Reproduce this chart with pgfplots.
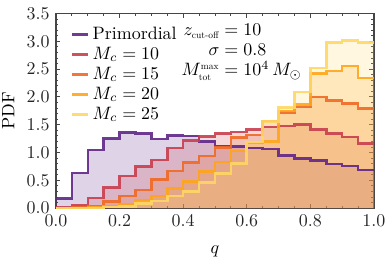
\documentclass[border=0pt]{standalone}
\usepackage{amsmath}
\usepackage{graphicx}
\usepackage{pgfplots}
\usepackage{pgfplotstable}
\pgfplotsset{compat=1.18}
\usetikzlibrary{calc}
\definecolor{cP}{RGB}{95,38,135}
\definecolor{cA}{RGB}{200,62,78}
\definecolor{cB}{RGB}{240,105,35}
\definecolor{cC}{RGB}{255,165,25}
\definecolor{cD}{RGB}{255,215,100}
\definecolor{frame}{RGB}{70,70,70}
\newcommand{\tinytxt}[1]{\mbox{\scalebox{0.53}{#1}}}
\pgfplotstableread{
q     P     A     B     C     D
0.00  0.17  0.01  0.00  0.00  0.00
0.05  0.63  0.05  0.01  0.00  0.00
0.10  1.05  0.18  0.03  0.01  0.00
0.15  1.25  0.37  0.12  0.03  0.02
0.20  1.36  0.58  0.22  0.07  0.03
0.25  1.34  0.75  0.33  0.15  0.08
0.30  1.24  0.87  0.52  0.22  0.13
0.35  1.31  1.08  0.67  0.35  0.22
0.40  1.30  1.22  0.82  0.48  0.30
0.45  1.20  1.29  0.94  0.66  0.46
0.50  1.12  1.34  1.09  0.83  0.62
0.55  1.11  1.37  1.27  1.03  0.80
0.60  1.08  1.41  1.32  1.17  1.19
0.65  1.06  1.46  1.57  1.20  1.56
0.70  0.95  1.48  1.72  1.75  1.81
0.75  0.89  1.50  1.82  1.86  2.09
0.80  0.86  1.41  2.00  2.42  2.52
0.85  0.79  1.34  1.94  2.47  2.98
0.90  0.76  1.28  1.88  2.56  3.01
0.95  0.69  1.16  1.79  2.34  2.98
1.00  0.69  1.16  1.79  2.34  2.98
}\hist
\begin{document}
\begin{tikzpicture}
\begin{axis}[
  scale only axis, width=176.7bp, height=108.2bp,
  xmin=0, xmax=1, ymin=0, ymax=3.5,
  xtick={0,0.2,...,1.0}, ytick={0,0.5,...,3.5},
  minor x tick num=3, minor y tick num=4,
  major tick length=2.5bp, minor tick length=1.4bp,
  axis line style={draw=frame, line width=0.7pt},
  every tick/.style={draw=frame, line width=0.5pt},
  xticklabel style={/pgf/number format/.cd, fixed, fixed zerofill, precision=1},
  yticklabel style={/pgf/number format/.cd, fixed, fixed zerofill, precision=1},
  tick label style={text=black!85},
  xlabel={$q$}, ylabel={PDF},
  xlabel style={yshift=-4bp},
  legend cell align=left,
  legend style={at={(rel axis cs:0.03,0.97)}, anchor=north west, draw=none, fill=none, row sep=-1.2pt},
  legend image code/.code={\draw[#1, line width=1.4pt] (0cm,0cm) -- (0.3cm,0cm);},
  const plot mark left,
]
\coordinate (bl) at (rel axis cs:0,0);
\coordinate (tr) at (rel axis cs:1,1);
% fills first
\addplot[fill=cP, fill opacity=0.2, draw=none, forget plot] table[x=q,y=P] {\hist} \closedcycle;
\addplot[fill=cA, fill opacity=0.2, draw=none, forget plot] table[x=q,y=A] {\hist} \closedcycle;
\addplot[fill=cB, fill opacity=0.2, draw=none, forget plot] table[x=q,y=B] {\hist} \closedcycle;
\addplot[fill=cC, fill opacity=0.2, draw=none, forget plot] table[x=q,y=C] {\hist} \closedcycle;
\addplot[fill=cD, fill opacity=0.2, draw=none, forget plot] table[x=q,y=D] {\hist} \closedcycle;
% lines
\addplot[draw=cP, line width=1.4pt, draw opacity=0.9] table[x=q,y=P] {\hist};
\addlegendentry{Primordial}
\addplot[draw=cA, line width=1.4pt, draw opacity=0.9] table[x=q,y=A] {\hist};
\addlegendentry{$M_c=10$}
\addplot[draw=cB, line width=1.4pt, draw opacity=0.9] table[x=q,y=B] {\hist};
\addlegendentry{$M_c=15$}
\addplot[draw=cC, line width=1.4pt, draw opacity=0.9] table[x=q,y=C] {\hist};
\addlegendentry{$M_c=20$}
\addplot[draw=cD, line width=1.4pt, draw opacity=0.9] table[x=q,y=D] {\hist};
\addlegendentry{$M_c=25$}
\node[anchor=base west, inner sep=0pt] at (axis cs:0.513,3.10) {\llap{$z_{\tinytxt{cut-off}}$}${}=10$};
\node[anchor=base west, inner sep=0pt] at (axis cs:0.513,2.74) {\llap{$\sigma$}${}=0.8$};
\node[anchor=base west, inner sep=0pt] at (axis cs:0.513,2.38) {\llap{$M_{\tinytxt{tot}}^{\tinytxt{max}}$}${}=10^4\,M_\odot$};
\end{axis}
\pgfresetboundingbox
\path ($(bl)+(-31.1bp,-32.1bp)$) rectangle ($(tr)+(6.7bp,7.5bp)$);
\end{tikzpicture}
\end{document}
